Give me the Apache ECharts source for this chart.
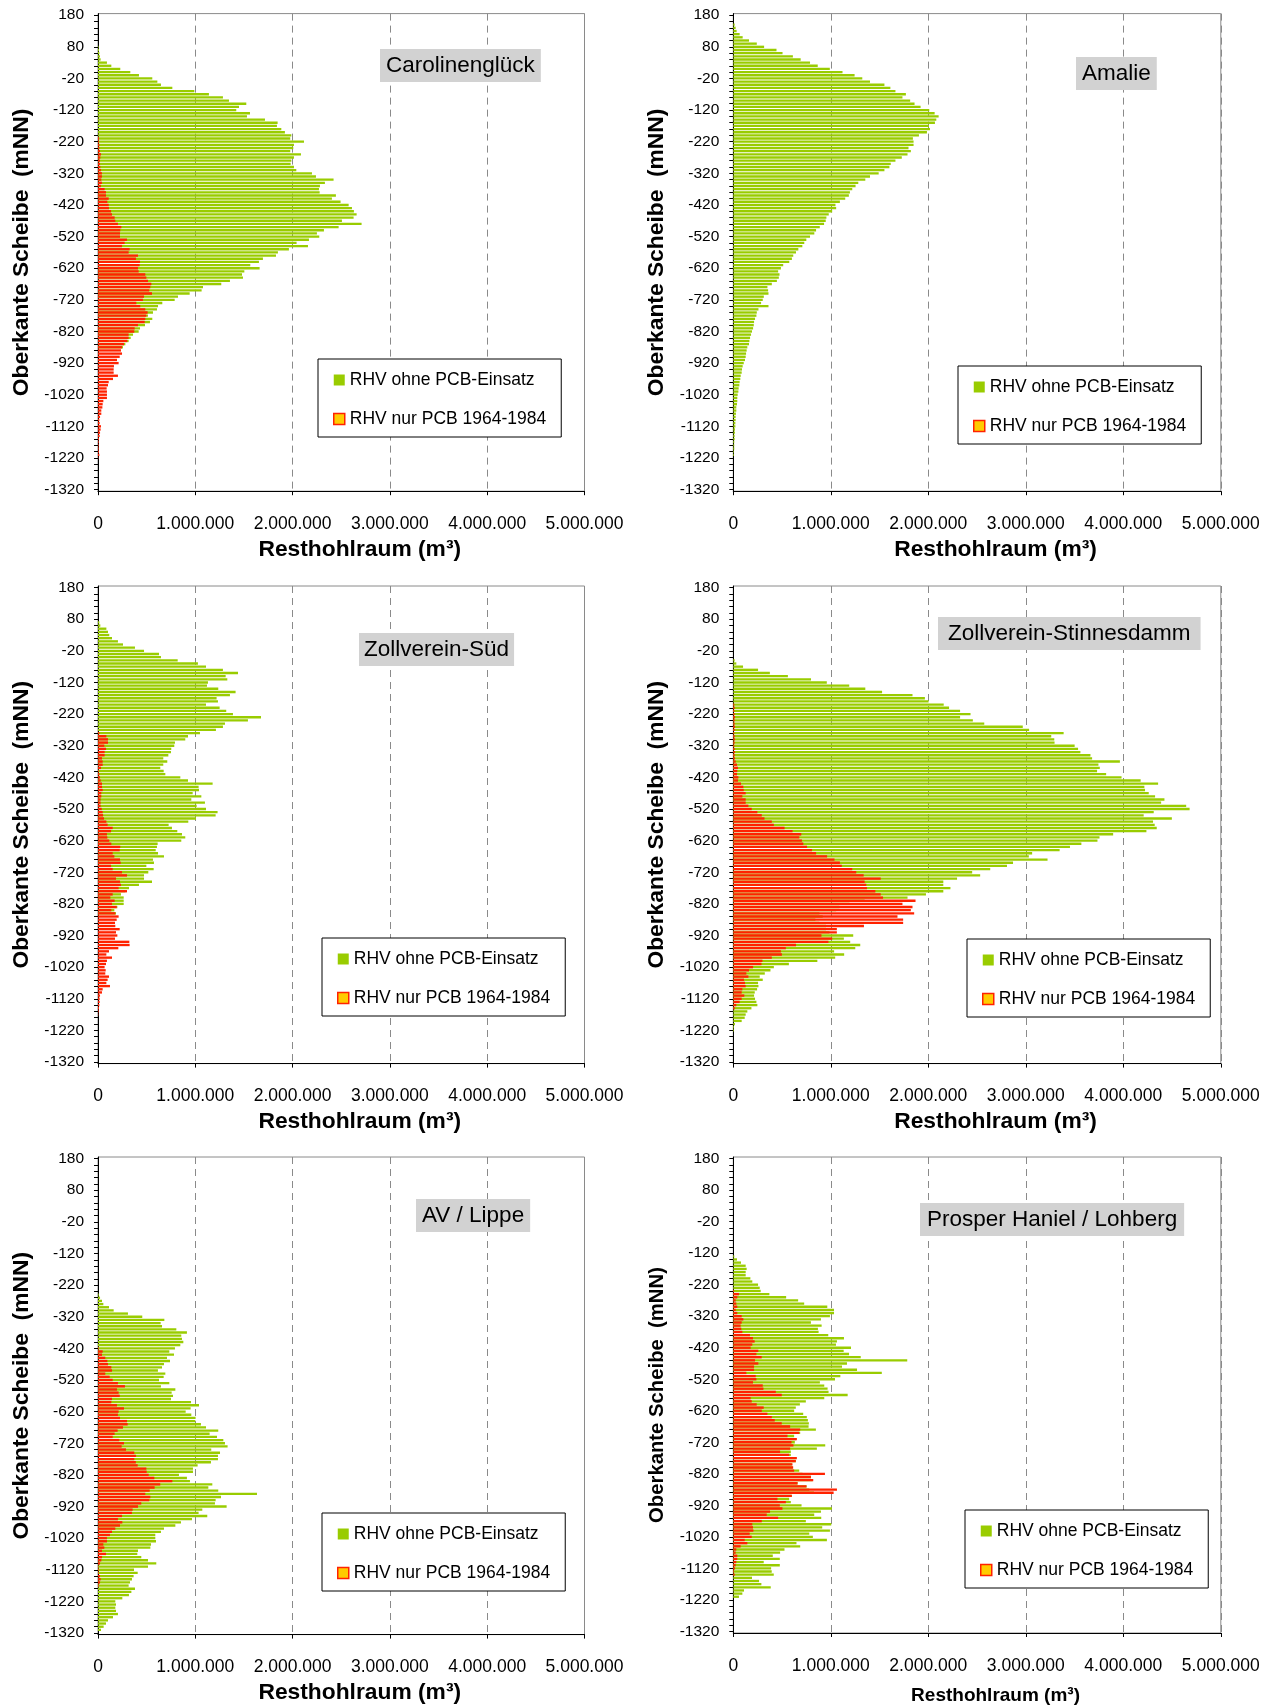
<!DOCTYPE html>
<html><head><meta charset="utf-8">
<script src="https://cdn.jsdelivr.net/npm/echarts@6/dist/echarts.min.js"></script>
<style>html,body{margin:0;padding:0;background:#fff}#chart{width:1273px;height:1706px}</style>
</head><body><div id="chart"></div>
<script>
// ---- categories (Oberkante Scheibe, mNN) ----
const levels = [
  180,170,160,150,140,130,120,110,100,90,
  80,70,60,50,40,30,20,10,0,-10,
  -20,-30,-40,-50,-60,-70,-80,-90,-100,-110,
  -120,-130,-140,-150,-160,-170,-180,-190,-200,-210,
  -220,-230,-240,-250,-260,-270,-280,-290,-300,-310,
  -320,-330,-340,-350,-360,-370,-380,-390,-400,-410,
  -420,-430,-440,-450,-460,-470,-480,-490,-500,-510,
  -520,-530,-540,-550,-560,-570,-580,-590,-600,-610,
  -620,-630,-640,-650,-660,-670,-680,-690,-700,-710,
  -720,-730,-740,-750,-760,-770,-780,-790,-800,-810,
  -820,-830,-840,-850,-860,-870,-880,-890,-900,-910,
  -920,-930,-940,-950,-960,-970,-980,-990,-1000,-1010,
  -1020,-1030,-1040,-1050,-1060,-1070,-1080,-1090,-1100,-1110,
  -1120,-1130,-1140,-1150,-1160,-1170,-1180,-1190,-1200,-1210,
  -1220,-1230,-1240,-1250,-1260,-1270,-1280,-1290,-1300,-1310,
  -1320
];
// x axis ticks, in 1000 m³
const xTicks = [0, 1000, 2000, 3000, 4000, 5000];
const seriesNames = ['RHV ohne PCB-Einsatz', 'RHV nur PCB 1964-1984'];
const panelTitles = ['Carolinenglück', 'Amalie', 'Zollverein-Süd', 'Zollverein-Stinnesdamm', 'AV / Lippe', 'Prosper Haniel / Lohberg'];

// ---- values, 1000 m³ per slice; each list starts at the given level and goes down in 10 m steps ----
const caroGreenFrom = 80;
const caroGreen = [
  5, 10, 14, 20, 27, 92, 137, 229, 332, 421,
  558, 610, 647, 764, 990, 1140, 1284, 1346, 1524, 1449,
  1421, 1562, 1531, 1716, 1846, 1839, 1884, 1921, 1987, 1976,
  2117, 2014, 2007, 1976, 2086, 2014, 1987, 1980, 2014, 2038,
  2199, 2240, 2421, 2332, 2281, 2271, 2278, 2445, 2404, 2493,
  2576, 2610, 2630, 2658, 2627, 2507, 2709, 2473, 2322, 2250,
  2274, 2168, 2041, 2158, 1962, 1849, 1829, 1695, 1654, 1565,
  1661, 1504, 1480, 1490, 1356, 1267, 1079, 1065, 942, 822,
  788, 661, 617, 606, 565, 514, 558, 534, 483, 432,
  418, 360, 336, 315, 281, 257
];
const caroRedFrom = -210;
const caroRed = [
  10, 10, 14, 14, 20, 30, 24, 20, 20, 24,
  30, 40, 40, 34, 40, 30, 68, 82, 82, 110,
  96, 110, 113, 134, 144, 171, 178, 205, 240, 229,
  226, 226, 298, 274, 247, 325, 315, 411, 390, 432,
  428, 411, 418, 486, 497, 514, 548, 538, 527, 555,
  473, 462, 394, 435, 486, 510, 497, 486, 480, 411,
  377, 373, 315, 315, 301, 267, 247, 236, 247, 223,
  195, 212, 164, 161, 161, 205, 154, 110, 103, 89,
  92, 92, 92, 55, 48, 45, 34, 34, 21, 14,
  17, 31, 27, 21, 17, 10, 7, 7, 7, 10, 14, 3
];
const amalieGreenFrom = 150;
const amalieGreen = [
  14, 24, 34, 65, 96, 161, 241, 316, 443, 505,
  611, 691, 787, 866, 990, 1120, 1244, 1323, 1402, 1550,
  1611, 1663, 1770, 1735, 1814, 1859, 1921, 2010, 2065, 2106,
  2082, 2068, 2007, 2017, 1986, 1904, 1842, 1849, 1849, 1797,
  1821, 1787, 1728, 1663, 1615, 1601, 1550, 1491, 1402, 1354,
  1282, 1254, 1220, 1196, 1185, 1148, 1093, 1048, 1055, 1014,
  979, 955, 948, 931, 887, 849, 831, 787, 749, 728,
  708, 667, 643, 615, 601, 574, 512, 488, 460, 474,
  467, 447, 395, 350, 357, 361, 313, 302, 285, 361,
  258, 241, 237, 223, 213, 210, 203, 192, 182, 172,
  165, 161, 144, 137, 131, 127, 120, 107, 96, 89,
  86, 76, 72, 65, 62, 55, 52, 45, 41, 41,
  38, 31, 31, 27, 24, 24, 21, 21, 17, 17,
  14, 14, 10, 10, 10, 7, 7
];
const zvSuedGreenFrom = 70;
const zvSuedGreen = [
  14, 24, 86, 103, 116, 144, 205, 257, 380, 473,
  627, 647, 819, 1027, 1110, 1284, 1439, 1312, 1329, 1130,
  1120, 1236, 1414, 1356, 1219, 1233, 1110, 1250, 1318, 1387,
  1675, 1541, 1305, 1284, 1212, 1048, 925, 897, 791, 784,
  753, 750, 723, 671, 712, 671, 640, 675, 692, 846,
  925, 1178, 1034, 1038, 973, 1062, 959, 1099, 1014, 1110,
  1229, 1209, 1007, 928, 726, 760, 815, 863, 897, 856,
  613, 606, 593, 617, 678, 565, 575, 497, 572, 517,
  473, 473, 555, 421, 319, 281, 236, 264, 264, 264,
  199, 168, 185
];
const zvSuedRedFrom = -280;
const zvSuedRed = [
  14, 86, 103, 103, 65, 82, 68, 68, 41, 48,
  48, 31, 7, 14, 21, 27, 41, 41, 48, 34,
  34, 27, 27, 27, 38, 48, 52, 62, 86, 99,
  151, 134, 92, 96, 116, 137, 229, 223, 151, 168,
  226, 233, 134, 151, 247, 298, 185, 226, 236, 212,
  298, 151, 127, 171, 144, 192, 137, 178, 212, 192,
  175, 178, 223, 185, 199, 175, 322, 325, 209, 113,
  86, 144, 92, 82, 68, 79, 75, 113, 99, 86,
  123, 48, 41, 21, 17, 17, 14, 10, 7, 3
];
const zvStinGreenFrom = -50;
const zvStinGreen = [
  14, 31, 100, 254, 375, 560, 797, 959, 1189, 1354,
  1526, 1838, 1965, 2003, 2158, 2213, 2326, 2433, 2326, 2457,
  2574, 2969, 3034, 3388, 3261, 3292, 3295, 3501, 3536, 3560,
  3663, 3680, 3965, 3745, 3759, 3731, 3824, 3982, 4178, 4357,
  4216, 4223, 4261, 4326, 4422, 4388, 4645, 4680, 4312, 4209,
  4498, 4305, 4322, 4343, 4237, 3896, 3756, 3735, 3570, 3453,
  3347, 3065, 3031, 3223, 2869, 2807, 2635, 2450, 2532, 2295,
  2154, 2154, 2227, 2154, 1976, 1787, 1347, 1192, 1089, 1055,
  883, 917, 842, 883, 952, 952, 986, 1230, 1134, 1199,
  1302, 1251, 1034, 1137, 1045, 862, 570, 416, 381, 323,
  271, 302, 254, 258, 244, 220, 213, 223, 237, 247,
  186, 144, 127, 117, 86, 17, 7, 7
];
const zvStinRedFrom = -190;
const zvStinRed = [
  10, 14, 10, 14, 17, 14, 14, 17, 14, 10,
  14, 17, 14, 10, 14, 17, 14, 17,
  24, 38, 48, 41, 38, 52, 48, 79, 103, 107,
  127, 93, 127, 127, 155, 189, 247, 292, 320, 395,
  416, 526, 608, 697, 677, 704, 718, 756, 807, 849,
  962, 1038, 1093, 1113, 1220, 1261, 1337, 1512, 1347, 1364,
  1371, 1457, 1512, 1536, 1869, 1735, 1838, 1821, 1855, 1684,
  1742, 1742, 1340, 1062, 1062, 904, 1014, 976, 643, 539,
  488, 498, 395, 299, 289, 203, 161, 134, 155, 110,
  120, 127, 93, 86, 113, 86, 65, 31, 14
];
const avLippeGreenFrom = -250;
const avLippeGreen = [
  7, 21, 41, 55, 113, 161, 308, 455, 682, 644,
  658, 805, 914, 856, 863, 877, 846, 791, 733, 781,
  709, 740, 678, 658, 616, 692, 675, 627, 733, 647,
  795, 757, 771, 750, 956, 1038, 952, 901, 959, 1003,
  1000, 1058, 1110, 1236, 1147, 1223, 1288, 1305, 1332, 1164,
  1254, 1233, 1233, 1161, 1024, 976, 976, 832, 914, 945,
  1175, 1134, 1236, 1634, 1264, 1209, 1202, 1322, 1072, 1034,
  1123, 966, 853, 795, 678, 647, 589, 589, 596, 545,
  538, 411, 404, 445, 514, 599, 514, 370, 408, 366,
  349, 329, 315, 380, 343, 318, 250, 178, 185, 178,
  185, 205, 154, 103, 82, 58, 31
];
const avLippeRedFrom = -420;
const avLippeRed = [
  7, 48, 41, 75, 96, 103, 137, 144, 75, 120,
  151, 205, 277, 195, 212, 223, 144, 137, 195, 267,
  212, 205, 226, 298, 305, 257, 202, 171, 151, 219,
  267, 243, 288, 373, 390, 373, 389, 408, 497, 500,
  521, 579, 764, 640, 582, 531, 486, 538, 527, 445,
  411, 356, 349, 247, 205, 250, 226, 178, 144, 123,
  92, 92, 55, 65, 41, 82, 41, 34, 21, 3,
  7, 7, 21, 27, 21, 7
];
const prosperGreenFrom = -130;
const prosperGreen = [
  10, 38, 79, 127, 137, 127, 127, 175, 195, 254,
  271, 281, 370, 542, 665, 727, 964, 1033, 1033, 991,
  899, 796, 906, 868, 875, 974, 1135, 1063, 1053, 1207,
  1132, 1187, 1307, 1784, 1166, 1115, 1269, 1523, 1098, 1043,
  888, 933, 967, 977, 1173, 933, 744, 683, 641, 624,
  717, 754, 765, 775, 772, 847, 686, 624, 641, 631,
  943, 857, 590, 590, 641, 641, 600, 607, 676, 710,
  796, 813, 659, 751, 779, 827, 600, 573, 590, 700,
  1012, 899, 830, 902, 744, 1005, 912, 991, 779, 816,
  960, 648, 686, 525, 480, 405, 477, 312, 477, 388,
  394, 415, 192, 264, 288, 384, 110, 93, 58
];
const prosperRedFrom = -240;
const prosperRed = [
  7, 58, 41, 24, 31, 41, 24, 41, 86, 103,
  86, 75, 82, 93, 171, 202, 219, 195, 178, 257,
  237, 291, 223, 257, 213, 213, 134, 230, 237, 202,
  302, 309, 436, 497, 178, 189, 240, 312, 292, 350,
  395, 425, 497, 583, 686, 676, 556, 652, 597, 617,
  583, 480, 573, 652, 641, 607, 614, 624, 940, 796,
  820, 659, 751, 1063, 1029, 600, 453, 539, 477, 504,
  377, 343, 460, 292, 195, 202, 206, 168, 189, 117,
  144, 75, 31, 24, 41, 41, 31, 24, 17, 7, 14
];

// ---- build full columns aligned with the level categories ----
function column(fromLevel, values) {
  const out = levels.map(() => 0);
  const start = levels.indexOf(fromLevel);
  values.forEach((v, i) => { if (start + i < out.length) out[start + i] = v; });
  return out;
}
const panelData = [
  [column(caroGreenFrom, caroGreen), column(caroRedFrom, caroRed)],
  [column(amalieGreenFrom, amalieGreen), null],
  [column(zvSuedGreenFrom, zvSuedGreen), column(zvSuedRedFrom, zvSuedRed)],
  [column(zvStinGreenFrom, zvStinGreen), column(zvStinRedFrom, zvStinRed)],
  [column(avLippeGreenFrom, avLippeGreen), column(avLippeRedFrom, avLippeRed)],
  [column(prosperGreenFrom, prosperGreen), column(prosperRedFrom, prosperRed)]
];

// ---- layout / style ----
const FONT = "'Liberation Sans', Arial, sans-serif";
const GREEN = '#99CC00', RED = '#FF2200';
const gridPos = [
  {left: 98, top: 13.6}, {left: 733.3, top: 13.6},
  {left: 98, top: 586}, {left: 733.3, top: 586},
  {left: 98, top: 1157}, {left: 733.3, top: 1157}
];
const titlePos = [
  {left: 380, top: 49, pad: [5, 6]}, {left: 1076, top: 57, pad: [5, 6]},
  {left: 359, top: 633, pad: [5, 5]}, {left: 938, top: 617, pad: [5, 10]},
  {left: 416, top: 1199, pad: [5, 6]}, {left: 920, top: 1203, pad: [5, 7]}
];
const legendPos = [
  {left: 318, top: 359}, {left: 958, top: 366},
  {left: 322, top: 938}, {left: 967, top: 939},
  {left: 322, top: 1513}, {left: 965, top: 1510}
];
function fmtX(v) {
  if (v === 0) return '0';
  return String(Math.round(v * 1000)).replace(/\B(?=(\d{3})+(?!\d))/g, '.');
}

const grid = [], xAxis = [], yAxis = [], series = [], title = [], legend = [];
panelData.forEach((pd, i) => {
  const small = i === 5;
  grid.push({left: gridPos[i].left, top: gridPos[i].top, width: i % 2 ? 487.5 : 486.5, height: 477.6,
    show: true, borderColor: '#8a8a8a', borderWidth: 1, backgroundColor: 'transparent'});
  xAxis.push({
    gridIndex: i, type: 'value', min: xTicks[0], max: xTicks[xTicks.length - 1], interval: xTicks[1] - xTicks[0],
    axisLine: {show: true, lineStyle: {color: '#000', width: 1}},
    axisTick: {show: true, length: 4, lineStyle: {color: '#000'}},
    axisLabel: {formatter: fmtX, fontSize: 17.5, color: '#000', margin: 24, fontFamily: FONT},
    splitLine: {show: true, lineStyle: {color: '#8a8a8a', width: 1, type: [7, 5]}},
    name: 'Resthohlraum (m³)', nameLocation: 'middle', nameGap: small ? 53 : 47,
    nameTextStyle: {fontSize: small ? 19 : 22.8, fontWeight: 'bold', color: '#000', fontFamily: FONT, padding: [0, 0, 0, 37]}
  });
  yAxis.push({
    gridIndex: i, type: 'category', data: levels, inverse: true, boundaryGap: true,
    axisLine: {show: true, lineStyle: {color: '#000', width: 1}},
    axisTick: {show: true, interval: 1, alignWithLabel: true, length: 4, lineStyle: {color: '#000'}},
    axisLabel: {interval: 9, fontSize: 15.5, color: '#000', margin: 14, fontFamily: FONT},
    splitLine: {show: false},
    name: 'Oberkante Scheibe  (mNN)', nameLocation: 'middle', nameGap: small ? 66 : 65,
    nameTextStyle: {fontSize: small ? 20.3 : 22.8, fontWeight: 'bold', color: '#000', fontFamily: FONT}
  });
  series.push({type: 'bar', name: seriesNames[0], xAxisIndex: i, yAxisIndex: i, data: pd[0],
    barGap: '-100%', barCategoryGap: '26%', itemStyle: {color: GREEN}, z: 2, silent: true});
  if (pd[1]) series.push({type: 'bar', name: seriesNames[1], xAxisIndex: i, yAxisIndex: i, data: pd[1],
    barGap: '-100%', barCategoryGap: '26%', itemStyle: {color: RED}, z: 3, silent: true});
  title.push({text: panelTitles[i], left: titlePos[i].left, top: titlePos[i].top, padding: titlePos[i].pad,
    backgroundColor: '#d2d2d2',
    textStyle: {fontSize: 22.5, fontWeight: 'normal', color: '#000', fontFamily: FONT, lineHeight: 23}});
  legend.push({left: legendPos[i].left, top: legendPos[i].top, orient: 'vertical', selectedMode: false,
    backgroundColor: '#fff', borderColor: '#000', borderWidth: 1, padding: [12, 15, 9, 15], itemGap: 21,
    itemWidth: 11, itemHeight: 11, icon: 'rect',
    textStyle: {fontSize: 17.5, color: '#000', fontFamily: FONT, lineHeight: 18},
    data: [
      {name: seriesNames[0], itemStyle: {color: GREEN, borderWidth: 0}},
      {name: seriesNames[1], itemStyle: {color: '#FFCC00', borderColor: RED, borderWidth: 1.5}}
    ]});
});

const chart = echarts.init(document.getElementById('chart'), null, {renderer: 'canvas'});
chart.setOption({
  animation: false, backgroundColor: '#fff', textStyle: {fontFamily: FONT},
  grid, xAxis, yAxis, series, title, legend
});
</script></body></html>
